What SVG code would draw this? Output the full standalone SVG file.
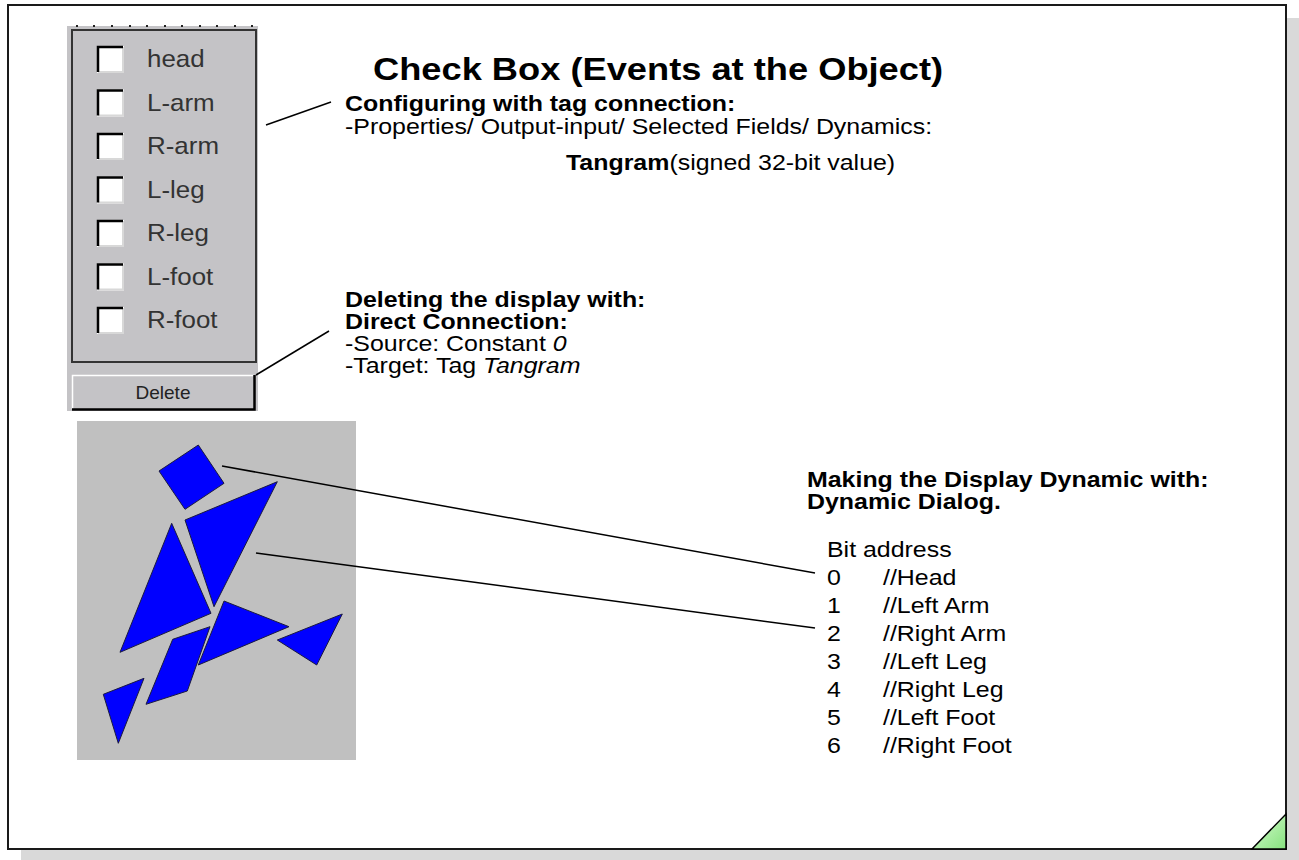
<svg xmlns="http://www.w3.org/2000/svg" width="1299" height="860" viewBox="0 0 1299 860">
  <defs>
    <linearGradient id="fold" x1="0" y1="0" x2="1" y2="1">
      <stop offset="0" stop-color="#d8fbd0"/>
      <stop offset="1" stop-color="#86e27e"/>
    </linearGradient>
    <style>
      .t { font-family: "Liberation Sans", Arial, sans-serif; fill: #000; }
      .title { font-size: 32px; font-weight: bold; }
      .body { font-size: 22px; }
      .bold { font-weight: bold; }
      .it { font-style: italic; }
      .lbl { font-family: "Liberation Sans", Arial, sans-serif; font-size: 24px; fill: #333; }
      .btn { font-family: "Liberation Sans", Arial, sans-serif; font-size: 19px; fill: #222; }
      .conn { stroke: #000; stroke-width: 1.5; fill: none; }
      .piece { fill: #0000ff; stroke: #1a1a40; stroke-width: 1; stroke-linejoin: round; }
      .cbface { fill: #fff; }
      .cbdark { fill: none; stroke: #000; stroke-width: 2.5; }
      .cblight { fill: none; stroke: #d8d8d8; stroke-width: 2; }
    </style>
  </defs>

  <!-- page with drop shadow -->
  <g id="page">
    <rect x="21" y="18" width="1278" height="844" fill="#d9d9d9"/>
    <rect x="8" y="5" width="1278" height="844" fill="#fff" stroke="#1a1a1a" stroke-width="2"/>
    <polygon points="1252,849 1286,814 1286,849" fill="url(#fold)" stroke="#000" stroke-width="1.5"/>
  </g>

  <!-- check box panel -->
  <g id="checkbox-panel">
    <rect x="67" y="26" width="191" height="385" fill="#c4c3c6"/>
    <g fill="#222">
      <rect x="76" y="25" width="2" height="2"/>
      <rect x="93" y="25" width="2" height="2"/>
      <rect x="111" y="25" width="2" height="2"/>
      <rect x="129" y="25" width="2" height="2"/>
      <rect x="146" y="25" width="2" height="2"/>
      <rect x="164" y="25" width="2" height="2"/>
      <rect x="181" y="25" width="2" height="2"/>
      <rect x="199" y="25" width="2" height="2"/>
      <rect x="216" y="25" width="2" height="2"/>
      <rect x="234" y="25" width="2" height="2"/>
      <rect x="251" y="25" width="2" height="2"/>
    </g>
    <rect x="72" y="30" width="184" height="332" fill="none" stroke="#333" stroke-width="2"/>
  </g>

  <g id="cb-head">
    <rect class="cbface" x="97" y="46" width="27" height="27"/>
    <polyline class="cblight" points="98,72 123,72 123,47"/>
    <polyline class="cbdark" points="98,72 98,47 123,47"/>
    <text class="lbl" transform="translate(147,67) scale(1.08,1)">head</text>
  </g>
  <g id="cb-larm">
    <rect class="cbface" x="97" y="89.5" width="27" height="27"/>
    <polyline class="cblight" points="98,115.5 123,115.5 123,90.5"/>
    <polyline class="cbdark" points="98,115.5 98,90.5 123,90.5"/>
    <text class="lbl" transform="translate(147,110.5) scale(1.08,1)">L-arm</text>
  </g>
  <g id="cb-rarm">
    <rect class="cbface" x="97" y="133" width="27" height="27"/>
    <polyline class="cblight" points="98,159 123,159 123,134"/>
    <polyline class="cbdark" points="98,159 98,134 123,134"/>
    <text class="lbl" transform="translate(147,154) scale(1.08,1)">R-arm</text>
  </g>
  <g id="cb-lleg">
    <rect class="cbface" x="97" y="176.5" width="27" height="27"/>
    <polyline class="cblight" points="98,202.5 123,202.5 123,177.5"/>
    <polyline class="cbdark" points="98,202.5 98,177.5 123,177.5"/>
    <text class="lbl" transform="translate(147,197.5) scale(1.08,1)">L-leg</text>
  </g>
  <g id="cb-rleg">
    <rect class="cbface" x="97" y="220" width="27" height="27"/>
    <polyline class="cblight" points="98,246 123,246 123,221"/>
    <polyline class="cbdark" points="98,246 98,221 123,221"/>
    <text class="lbl" transform="translate(147,241) scale(1.08,1)">R-leg</text>
  </g>
  <g id="cb-lfoot">
    <rect class="cbface" x="97" y="263.5" width="27" height="27"/>
    <polyline class="cblight" points="98,289.5 123,289.5 123,264.5"/>
    <polyline class="cbdark" points="98,289.5 98,264.5 123,264.5"/>
    <text class="lbl" transform="translate(147,284.5) scale(1.08,1)">L-foot</text>
  </g>
  <g id="cb-rfoot">
    <rect class="cbface" x="97" y="307" width="27" height="27"/>
    <polyline class="cblight" points="98,333 123,333 123,308"/>
    <polyline class="cbdark" points="98,333 98,308 123,308"/>
    <text class="lbl" transform="translate(147,328) scale(1.08,1)">R-foot</text>
  </g>

  <!-- delete button -->
  <g id="delete-button">
    <rect x="72" y="375" width="183" height="35" fill="#c4c3c6"/>
    <polyline points="72.5,409 72.5,375.5 254,375.5" fill="none" stroke="#fff" stroke-width="1.5"/>
    <polyline points="72,409.5 254.5,409.5 254.5,375" fill="none" stroke="#000" stroke-width="2.5"/>
    <text class="btn" x="163" y="399" text-anchor="middle">Delete</text>
  </g>

  <!-- tangram figure -->
  <g id="tangram">
    <rect x="77" y="421" width="279" height="339" fill="#c0c0c0"/>
    <polygon class="piece" points="159,471 198.3,445 224,483.3 185,509.3"/>
    <polygon class="piece" points="185,520 277.3,481.7 214,606.7"/>
    <polygon class="piece" points="171.7,523.3 211,613.3 120,652.3"/>
    <polygon class="piece" points="172.7,639.3 210,626.7 187.3,691 146,704.3"/>
    <polygon class="piece" points="224,601 289,626.7 198.3,665"/>
    <polygon class="piece" points="277.3,640 342.3,614 316.7,665"/>
    <polygon class="piece" points="103.3,694.3 144,678.3 118.3,743.3"/>
  </g>

  <!-- connectors -->
  <g id="connectors">
    <line class="conn" x1="266" y1="125" x2="331" y2="102"/>
    <line class="conn" x1="256" y1="375" x2="329" y2="331"/>
    <line class="conn" x1="222" y1="466" x2="815" y2="573"/>
    <line class="conn" x1="256" y1="553" x2="815" y2="628"/>
  </g>

  <!-- headline -->
  <g id="title">
    <text class="t title" transform="translate(373,80) scale(1.133,1)">Check Box (Events at the Object)</text>
  </g>

  <!-- configuration note -->
  <g id="note-config">
    <text class="t body bold" transform="translate(345,111) scale(1.133,1)">Configuring with tag connection:</text>
    <text class="t body" transform="translate(345,134) scale(1.133,1)">-Properties/ Output-input/ Selected Fields/ Dynamics:</text>
    <text class="t body" transform="translate(566,170) scale(1.133,1)"><tspan class="bold">Tangram</tspan>(signed 32-bit value)</text>
  </g>

  <!-- delete note -->
  <g id="note-delete">
    <text class="t body bold" transform="translate(345,307) scale(1.133,1)">Deleting the display with:</text>
    <text class="t body bold" transform="translate(345,329) scale(1.133,1)">Direct Connection:</text>
    <text class="t body" transform="translate(345,351) scale(1.133,1)">-Source: Constant <tspan class="it">0</tspan></text>
    <text class="t body" transform="translate(345,373) scale(1.133,1)">-Target: Tag <tspan class="it">Tangram</tspan></text>
  </g>

  <!-- dynamic note -->
  <g id="note-dynamic">
    <text class="t body bold" transform="translate(807,487) scale(1.133,1)">Making the Display Dynamic with:</text>
    <text class="t body bold" transform="translate(807,509) scale(1.133,1)">Dynamic Dialog.</text>
  </g>

  <!-- bit address table -->
  <g id="bit-table">
    <text class="t body" transform="translate(827,557) scale(1.133,1)">Bit address</text>
    <text class="t body" transform="translate(827,585) scale(1.133,1)">0</text>
    <text class="t body" transform="translate(883,585) scale(1.133,1)">//Head</text>
    <text class="t body" transform="translate(827,613) scale(1.133,1)">1</text>
    <text class="t body" transform="translate(883,613) scale(1.133,1)">//Left Arm</text>
    <text class="t body" transform="translate(827,641) scale(1.133,1)">2</text>
    <text class="t body" transform="translate(883,641) scale(1.133,1)">//Right Arm</text>
    <text class="t body" transform="translate(827,669) scale(1.133,1)">3</text>
    <text class="t body" transform="translate(883,669) scale(1.133,1)">//Left Leg</text>
    <text class="t body" transform="translate(827,697) scale(1.133,1)">4</text>
    <text class="t body" transform="translate(883,697) scale(1.133,1)">//Right Leg</text>
    <text class="t body" transform="translate(827,725) scale(1.133,1)">5</text>
    <text class="t body" transform="translate(883,725) scale(1.133,1)">//Left Foot</text>
    <text class="t body" transform="translate(827,753) scale(1.133,1)">6</text>
    <text class="t body" transform="translate(883,753) scale(1.133,1)">//Right Foot</text>
  </g>
</svg>
